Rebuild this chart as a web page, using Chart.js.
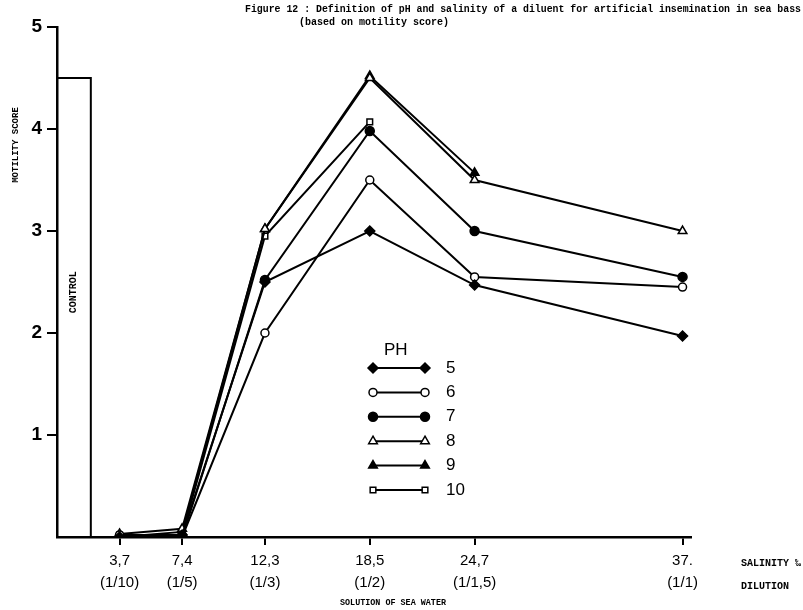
<!DOCTYPE html>
<html>
<head>
<meta charset="utf-8">
<title>Figure 12</title>
<script src="https://cdn.jsdelivr.net/npm/chart.js@4/dist/chart.umd.min.js"></script>
<style>
  body { margin: 0; background: #fff; }
  canvas { display: block; }
</style>
</head>
<body>
<canvas id="chart" width="803" height="610"></canvas>
<script>
// salinity (per mille) of each dilution of sea water
var salinity = [3.7, 7.4, 12.3, 18.5, 24.7, 37];
var salinityText = ['3,7', '7,4', '12,3', '18,5', '24,7', '37.'];
var dilutionText = ['(1/10)', '(1/5)', '(1/3)', '(1/2)', '(1/1,5)', '(1/1)'];

// motility score for each pH
var ph5  = [0.00, 0.02, 2.50, 3.00, 2.47, 1.97];
var ph6  = [0.02, 0.00, 2.00, 3.50, 2.55, 2.45];
var ph7  = [0.00, 0.00, 2.52, 3.98, 3.00, 2.55];
var ph8  = [0.03, 0.08, 3.02, 4.50, 3.50, 3.00];
var ph9  = [0.00, 0.05, 3.02, 4.52, 3.57, null];
var ph10 = [0.02, 0.02, 2.95, 4.07, null, null];

// control column (full sea water reference), outline corners
var controlX = [0, 0, 2, 2];
var controlY = [0, 4.5, 4.5, 0];

var yTicks = [1, 2, 3, 4, 5];

var typeFont = '"Liberation Mono", "DejaVu Sans Mono", monospace';

function points(xs, ys) {
  var out = [];
  for (var i = 0; i < xs.length; i++) {
    if (ys[i] !== null) out.push({ x: xs[i], y: ys[i] });
  }
  return out;
}

function series(label, values, style, filled, radius) {
  return {
    label: label,
    data: points(salinity, values),
    showLine: true,
    borderColor: '#000',
    borderWidth: 2,
    pointStyle: style,
    pointRadius: radius,
    pointBorderWidth: 1.5,
    pointBorderColor: '#000',
    pointBackgroundColor: filled ? '#000' : '#fff',
    isSeries: true
  };
}

var datasets = [
  {
    label: 'control',
    data: points(controlX, controlY),
    showLine: true,
    borderColor: '#000',
    borderWidth: 2,
    pointRadius: 0,
    isSeries: false
  },
  series('5', ph5, 'rectRot', true, 5),
  series('6', ph6, 'circle', false, 4),
  series('7', ph7, 'circle', true, 4.5),
  series('8', ph8, 'triangle', false, 5),
  series('9', ph9, 'triangle', true, 5),
  series('10', ph10, 'rect', false, 4)
];

// texts and the pH key drawn on top of the plot
var extras = {
  id: 'extras',
  afterDraw: function(chart) {
    var ctx = chart.ctx;
    ctx.save();
    ctx.fillStyle = '#000';
    ctx.textBaseline = 'middle';

    // title
    ctx.font = 'bold 10px ' + typeFont;
    ctx.textAlign = 'left';
    ctx.fillText('Figure 12 : Definition of pH and salinity of a diluent for artificial insemination in sea bass', 245, 9, 556);
    ctx.fillText('(based on motility score)', 299, 22);

    // axis texts
    ctx.fillText('SALINITY \u2030', 741, 563);
    ctx.fillText('DILUTION', 741, 586);
    ctx.textAlign = 'center';
    ctx.font = 'bold 9px ' + typeFont;
    ctx.fillText('SOLUTION OF SEA WATER', 393, 603, 106);

    ctx.save();
    ctx.translate(16, 145);
    ctx.rotate(-Math.PI / 2);
    ctx.fillText('MOTILITY SCORE', 0, 0, 84);
    ctx.restore();

    // label inside the control column
    var xs = chart.scales.x;
    var ys = chart.scales.y;
    ctx.save();
    ctx.translate(xs.getPixelForValue(controlX[0] + (controlX[2] - controlX[0]) / 2), ys.getPixelForValue(2.4));
    ctx.rotate(-Math.PI / 2);
    ctx.font = 'bold 10px ' + typeFont;
    ctx.fillText('CONTROL', 0, 0, 60);
    ctx.restore();

    // pH key
    ctx.font = '17px "Liberation Sans"';
    ctx.textAlign = 'left';
    ctx.fillText('PH', 384, 350);
    var rowY = 368, x0 = 373, x1 = 425;
    chart.data.datasets.forEach(function(ds) {
      if (!ds.isSeries) return;
      ctx.strokeStyle = '#000';
      ctx.lineWidth = 2;
      ctx.beginPath();
      ctx.moveTo(x0, rowY);
      ctx.lineTo(x1, rowY);
      ctx.stroke();
      [x0, x1].forEach(function(px) {
        ctx.fillStyle = ds.pointBackgroundColor;
        ctx.strokeStyle = '#000';
        ctx.lineWidth = ds.pointBorderWidth;
        Chart.helpers.drawPoint(ctx, {
          pointStyle: ds.pointStyle,
          radius: ds.pointRadius,
          rotation: 0,
          borderWidth: ds.pointBorderWidth
        }, px, rowY);
      });
      ctx.fillStyle = '#000';
      ctx.fillText(ds.label, 446, rowY);
      rowY += 24.4;
    });
    ctx.restore();
  }
};

new Chart(document.getElementById('chart'), {
  type: 'scatter',
  data: { datasets: datasets },
  options: {
    responsive: false,
    animation: false,
    layout: { padding: { left: 0, top: 27, right: 112, bottom: 0 } },
    plugins: {
      legend: { display: false },
      tooltip: { enabled: false }
    },
    scales: {
      x: {
        type: 'linear',
        min: 0,
        max: 37.5,
        afterBuildTicks: function(scale) {
          scale.ticks = salinity.map(function(v) { return { value: v }; });
        },
        afterFit: function(scale) { scale.height = 73; },
        border: { display: true, color: '#000', width: 2.5 },
        grid: {
          drawOnChartArea: false,
          drawTicks: true,
          tickLength: 8,
          color: '#000',
          lineWidth: 2
        },
        ticks: {
          color: '#000',
          padding: 5,
          maxRotation: 0,
          autoSkip: false,
          font: { family: 'Liberation Sans', size: 15, lineHeight: 1.45 },
          callback: function(v, i) { return [salinityText[i], dilutionText[i]]; }
        }
      },
      y: {
        min: 0,
        max: 5,
        afterBuildTicks: function(scale) {
          scale.ticks = yTicks.map(function(v) { return { value: v }; });
        },
        afterFit: function(scale) { scale.width = 57; },
        border: { display: true, color: '#000', width: 2.5 },
        grid: {
          drawOnChartArea: false,
          drawTicks: true,
          tickLength: 10,
          color: '#000',
          lineWidth: 2
        },
        ticks: {
          color: '#000',
          padding: 5,
          font: { family: 'Liberation Sans', size: 19, weight: 'bold' }
        }
      }
    }
  },
  plugins: [extras]
});
</script>
</body>
</html>
